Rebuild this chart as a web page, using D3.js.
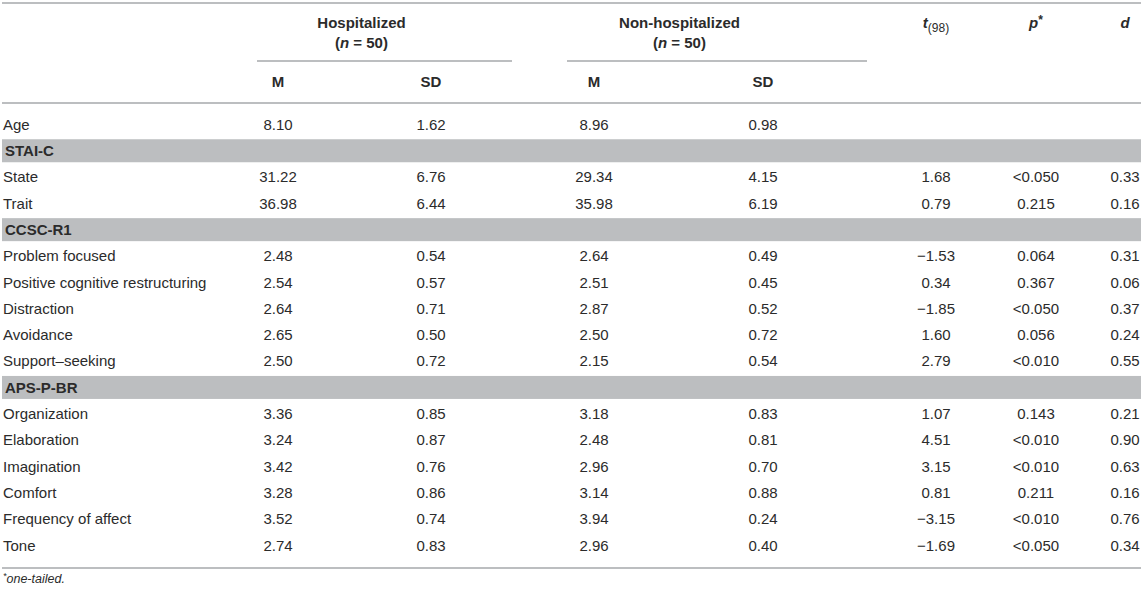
<!DOCTYPE html>
<html>
<head>
<meta charset="utf-8">
<script src="https://cdn.jsdelivr.net/npm/d3@7"></script>
<style>
  body { margin: 0; background: #fff; }
  svg text { font-family: "Liberation Sans", Arial, Helvetica, sans-serif; fill: #2b2b2b; }
</style>
</head>
<body>
<div id="table-chart"></div>
<script>
/* Descriptive statistics table: hospitalized vs non-hospitalized children. */

const rowLabels = ["Age", "STAI-C", "State", "Trait", "CCSC-R1", "Problem focused",
  "Positive cognitive restructuring", "Distraction", "Avoidance", "Support\u2013seeking",
  "APS-P-BR", "Organization", "Elaboration", "Imagination", "Comfort",
  "Frequency of affect", "Tone"];
const sections = ["STAI-C", "CCSC-R1", "APS-P-BR"];

// null = section row or empty cell
const hospM   = [8.10, null, 31.22, 36.98, null, 2.48, 2.54, 2.64, 2.65, 2.50, null, 3.36, 3.24, 3.42, 3.28, 3.52, 2.74];
const hospSD  = [1.62, null, 6.76, 6.44, null, 0.54, 0.57, 0.71, 0.50, 0.72, null, 0.85, 0.87, 0.76, 0.86, 0.74, 0.83];
const nonM    = [8.96, null, 29.34, 35.98, null, 2.64, 2.51, 2.87, 2.50, 2.15, null, 3.18, 2.48, 2.96, 3.14, 3.94, 2.96];
const nonSD   = [0.98, null, 4.15, 6.19, null, 0.49, 0.45, 0.52, 0.72, 0.54, null, 0.83, 0.81, 0.70, 0.88, 0.24, 0.40];
const tVals   = [null, null, 1.68, 0.79, null, -1.53, 0.34, -1.85, 1.60, 2.79, null, 1.07, 4.51, 3.15, 0.81, -3.15, -1.69];
const pVals   = [null, null, "<0.050", "0.215", null, "0.064", "0.367", "<0.050", "0.056", "<0.010", null,
  "0.143", "<0.010", "<0.010", "0.211", "<0.010", "<0.050"];
const dVals   = [null, null, 0.33, 0.16, null, 0.31, 0.06, 0.37, 0.24, 0.55, null, 0.21, 0.90, 0.63, 0.16, 0.76, 0.34];

const groups = ["Hospitalized", "Non-hospitalized"];
const groupN = [50, 50];

const width = 1143, height = 592,
  left = 2, right = 1141,
  fontSize = 15;

const fmt = d3.format(".2f");

// column centres
const colKeys = ["hM", "hSD", "nM", "nSD", "t", "p", "d"];
const x = d3.scaleOrdinal().domain(colKeys).range([278, 431, 594, 763, 936, 1036, 1125]);
const columns = [hospM, hospSD, nonM, nonSD, tVals, pVals, dVals];

// rows
const y = d3.scaleBand().domain(d3.range(rowLabels.length)).range([111.3, 111.3 + rowLabels.length * 26.3]).padding(0);
const yc = i => y(i) + y.bandwidth() / 2;

const svg = d3.select("#table-chart")
  .append("svg")
  .attr("width", width)
  .attr("height", height)
  .attr("viewBox", [0, 0, width, height]);

const ruleColor = "#a6a8ab";

// section bands
svg.append("g")
  .selectAll("rect")
  .data(rowLabels.map((d, i) => ({ d, i })).filter(r => sections.includes(r.d)))
  .join("rect")
  .attr("x", left)
  .attr("width", right - left)
  .attr("y", r => yc(r.i) - 11.5)
  .attr("height", 23)
  .attr("fill", "#bcbec0");

// horizontal rules
svg.append("g")
  .attr("stroke", ruleColor)
  .attr("stroke-width", 1.5)
  .selectAll("line")
  .data([[left, right, 3], [257, 512, 61], [567, 867, 61], [left, right, 103], [left, right, 568]])
  .join("line")
  .attr("x1", d => d[0])
  .attr("x2", d => d[1])
  .attr("y1", d => d[2])
  .attr("y2", d => d[2]);

// header
const head = svg.append("g").attr("font-size", fontSize).attr("text-anchor", "middle").attr("font-weight", "bold");
const groupX = [(x("hM") + x("hSD")) / 2 + 7, (x("nM") + x("nSD")) / 2 + 1];

groups.forEach((g, i) => {
  head.append("text").attr("x", groupX[i]).attr("y", 23).attr("dy", "0.35em").text(g);
  const n = head.append("text").attr("x", groupX[i]).attr("y", 43).attr("dy", "0.35em");
  n.append("tspan").text("(");
  n.append("tspan").attr("font-style", "italic").text("n");
  n.append("tspan").text(` = ${groupN[i]})`);
});

head.selectAll("text.sub")
  .data(["hM", "hSD", "nM", "nSD"])
  .join("text")
  .attr("class", "sub")
  .attr("x", d => x(d))
  .attr("y", 82)
  .attr("dy", "0.35em")
  .text(d => d.endsWith("SD") ? "SD" : "M");

// t(98), p*, d
const tHead = head.append("text").attr("x", x("t")).attr("y", 23).attr("dy", "0.35em");
tHead.append("tspan").attr("font-style", "italic").text("t");
tHead.append("tspan").attr("font-size", fontSize * 0.8).attr("font-weight", "normal").attr("dy", "0.3em").text("(98)");

const pHead = head.append("text").attr("x", x("p")).attr("y", 23).attr("dy", "0.35em");
pHead.append("tspan").attr("font-style", "italic").text("p");
pHead.append("tspan").attr("font-size", fontSize * 0.8).attr("dy", "-0.35em").text("*");

head.append("text").attr("x", x("d")).attr("y", 23).attr("dy", "0.35em")
  .attr("font-style", "italic").text("d");

// row labels
svg.append("g")
  .attr("font-size", fontSize)
  .selectAll("text")
  .data(rowLabels)
  .join("text")
  .attr("x", d => sections.includes(d) ? 5 : 3)
  .attr("y", (d, i) => yc(i))
  .attr("dy", "0.35em")
  .attr("font-weight", d => sections.includes(d) ? "bold" : null)
  .text(d => d);

// cell values
svg.append("g")
  .attr("font-size", fontSize)
  .attr("text-anchor", "middle")
  .selectAll("g")
  .data(columns.map((vals, c) => ({ key: colKeys[c], vals })))
  .join("g")
  .selectAll("text")
  .data(col => col.vals.map((v, i) => ({ key: col.key, v, i })).filter(c => c.v !== null))
  .join("text")
  .attr("x", c => x(c.key))
  .attr("y", c => yc(c.i))
  .attr("dy", "0.35em")
  .text(c => typeof c.v === "number" ? fmt(c.v) : c.v);

// footnote
const note = svg.append("text")
  .attr("x", 3)
  .attr("y", 582)
  .attr("dy", "0.35em")
  .attr("font-size", 12.5)
  .attr("font-style", "italic");
note.append("tspan").attr("font-size", 9).attr("dy", "-0.3em").text("*");
note.append("tspan").attr("dy", "0.3em").text("one-tailed.");

</script>
</body>
</html>
